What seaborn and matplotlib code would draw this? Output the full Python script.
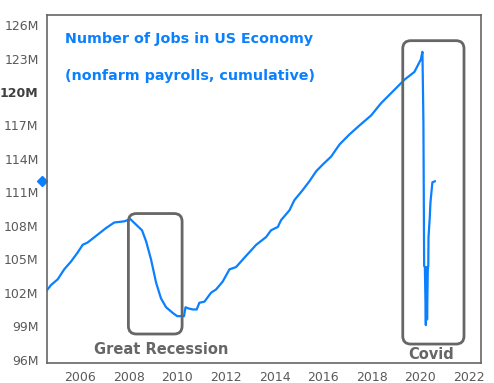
import numpy as np
import pandas as pd
import matplotlib
matplotlib.use("Agg")
import matplotlib.pyplot as plt
import matplotlib.transforms as mtransforms
from matplotlib.patches import FancyBboxPatch
import seaborn as sns

# --- data (decimal year, payrolls in millions) ---
years = [2004.63, 2004.81, 2005.08, 2005.35, 2005.63, 2005.90, 2006.11, 2006.31,
         2006.72, 2007.07, 2007.41, 2007.82, 2008.07, 2008.31, 2008.55, 2008.72,
         2008.92, 2009.13, 2009.33, 2009.54, 2009.81, 2010.00, 2010.16, 2010.28,
         2010.34, 2010.45, 2010.64, 2010.80, 2010.91, 2011.12, 2011.39, 2011.60,
         2011.87, 2012.15, 2012.42, 2012.83, 2013.25, 2013.66, 2013.86, 2014.14,
         2014.27, 2014.62, 2014.82, 2015.16, 2015.44, 2015.72, 2015.99, 2016.33,
         2016.68, 2017.09, 2017.50, 2017.98, 2018.39, 2018.94, 2019.35, 2019.76,
         2020.02, 2020.09, 2020.13, 2020.16, 2020.19, 2020.23, 2020.26, 2020.28,
         2020.31, 2020.33, 2020.34, 2020.39, 2020.42, 2020.46, 2020.50, 2020.61]
payrolls_m = [102.2, 102.7, 103.2, 104.1, 104.8, 105.6, 106.3, 106.5,
              107.2, 107.8, 108.3, 108.4, 108.6, 108.1, 107.6, 106.6,
              105.0, 102.9, 101.5, 100.7, 100.2, 99.9, 99.9, 99.9,
              100.7, 100.6, 100.5, 100.5, 101.1, 101.2, 102.0, 102.3,
              103.0, 104.1, 104.3, 105.3, 106.3, 107.0, 107.6, 107.9,
              108.5, 109.4, 110.3, 111.2, 112.0, 112.9, 113.5, 114.2,
              115.3, 116.2, 117.0, 117.9, 119.0, 120.2, 121.1, 121.8,
              122.9, 123.6, 117.3, 104.4, 104.3, 99.1, 104.3, 99.6,
              104.1, 104.4, 107.0, 108.7, 110.1, 111.0, 111.9, 112.0]

x_ticks = [2006, 2008, 2010, 2012, 2014, 2016, 2018, 2020, 2022]
y_ticks = [96, 99, 102, 105, 108, 111, 114, 117, 120, 123, 126]

df = pd.DataFrame({"year": years, "payrolls": payrolls_m})

blue = "#0A80FF"
grey = "#666666"
tick_grey = "#5A5A5A"

sns.set_style("white")
plt.rcParams["font.family"] = ["DejaVu Sans"]

fig = plt.figure(figsize=(4.94, 3.83), dpi=100)
ax = fig.add_axes([0.0951, 0.0522, 0.8786, 0.9086])

sns.lineplot(data=df, x="year", y="payrolls", color=blue, linewidth=1.6,
             sort=False, ax=ax)

ax.set_xlim(2004.64, 2022.5)
ax.set_ylim(95.7, 126.9)
ax.set_xticks(x_ticks)
ax.set_xticklabels([str(t) for t in x_ticks])
ax.set_yticks(y_ticks)
ax.set_yticklabels([f"{t}M" for t in y_ticks])
ax.set_xlabel("")
ax.set_ylabel("")
ax.tick_params(axis="both", direction="out", length=4, width=1, color=grey,
               labelcolor=tick_grey, labelsize=9, pad=2)
for lbl in ax.get_yticklabels():
    if lbl.get_text() == "120M":
        lbl.set_fontweight("bold")
        lbl.set_color("#404040")
for sp in ax.spines.values():
    sp.set_color(grey)
    sp.set_linewidth(1.2)

# last value marker on the y axis
trans = mtransforms.blended_transform_factory(ax.transAxes, ax.transData)
ax.plot([-0.012], [payrolls_m[-1]], marker="D", markersize=5, color=blue,
        transform=trans, clip_on=False)

# titles
ax.text(0.042, 0.931, "Number of Jobs in US Economy", transform=ax.transAxes,
        color=blue, fontsize=10.3, fontweight="bold", va="center", ha="left")
ax.text(0.042, 0.825, "(nonfarm payrolls, cumulative)", transform=ax.transAxes,
        color=blue, fontsize=10.3, fontweight="bold", va="center", ha="left")

# highlight boxes
aspect = (31.2 / 348) / (17.86 / 434)
for (x0, x1, y0, y1) in [(2007.99, 2010.2, 98.3, 109.1), (2019.28, 2021.8, 97.4, 124.6)]:
    box = FancyBboxPatch((x0, y0), x1 - x0, y1 - y0,
                         boxstyle="round,pad=0,rounding_size=0.33",
                         mutation_aspect=aspect, fill=False,
                         edgecolor=grey, linewidth=2, zorder=3)
    ax.add_patch(box)

ax.text(2009.35, 96.9, "Great Recession", color=grey, fontsize=10.5,
        fontweight="bold", ha="center", va="center")
ax.text(2020.45, 96.5, "Covid", color=grey, fontsize=10.5,
        fontweight="bold", ha="center", va="center")

fig.savefig("out.png", dpi=100)
